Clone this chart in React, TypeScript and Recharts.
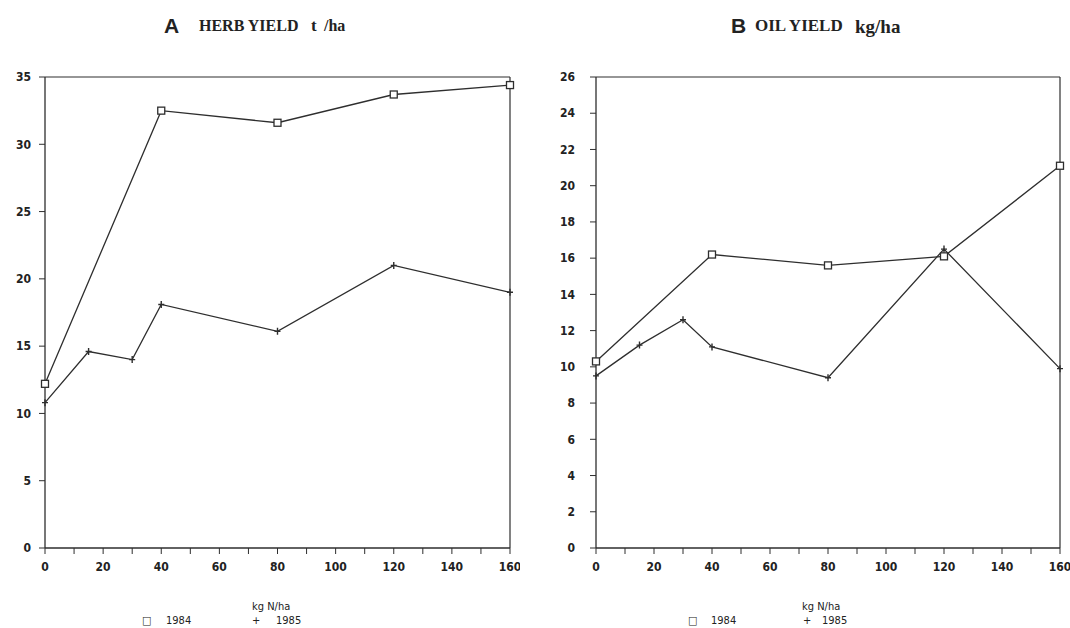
import { LineChart, Line, XAxis, YAxis, ReferenceLine } from 'recharts'

// kg N/ha application levels
const nTicks = [0, 10, 20, 30, 40, 50, 60, 70, 80, 90, 100, 110, 120, 130, 140, 150, 160]

// A: herb yield t/ha
const herbN1984 = [0, 40, 80, 120, 160]
const herb1984 = [12.2, 32.5, 31.6, 33.7, 34.4]
const herbN1985 = [0, 15, 30, 40, 80, 120, 160]
const herb1985 = [10.8, 14.6, 14.0, 18.1, 16.1, 21.0, 19.0]
const herbTicks = [0, 5, 10, 15, 20, 25, 30, 35]

// B: oil yield kg/ha
const oilN1984 = [0, 40, 80, 120, 160]
const oil1984 = [10.3, 16.2, 15.6, 16.1, 21.1]
const oilN1985 = [0, 15, 30, 40, 80, 120, 160]
const oil1985 = [9.5, 11.2, 12.6, 11.1, 9.4, 16.5, 9.9]
const oilTicks = [0, 2, 4, 6, 8, 10, 12, 14, 16, 18, 20, 22, 24, 26]

const ink = '#2e2e2e'
const font = '"DejaVu Sans Condensed", "DejaVu Sans", sans-serif'

const zip = (xs, ys) => xs.map((n, i) => ({ n, v: ys[i] }))

const SquareDot = (p) => (
    <rect key={'s' + p.index} x={p.cx - 3.5} y={p.cy - 3.5} width={7} height={7}
        fill="#fff" stroke={ink} strokeWidth={1.3} />
)
const PlusDot = (p) => (
    <path key={'p' + p.index}
        d={`M${p.cx - 3},${p.cy}H${p.cx + 3}M${p.cx},${p.cy - 3.5}V${p.cy + 3.5}`}
        stroke={ink} strokeWidth={1.4} />
)

const tick = { fill: '#222', fontSize: 12, fontFamily: font, fontWeight: 'bold' }

const Panel = ({ left, width, yAxisWidth, yTickMargin, ticks, max, a, b }) => (
    <div style={{ position: 'absolute', left, top: 0 }}>
        <LineChart width={width} height={628}
            margin={{ top: 77, right: 10, bottom: 50, left: 0 }}>
            <XAxis type="number" dataKey="n" domain={[0, 160]} ticks={nTicks}
                tickFormatter={(v) => (v % 20 === 0 ? String(v) : '')}
                allowDuplicatedCategory={false}
                height={30} tickSize={6} tickMargin={8} tick={tick}
                axisLine={{ stroke: ink, strokeWidth: 1.3 }} tickLine={{ stroke: ink }} />
            <YAxis type="number" domain={[0, max]} ticks={ticks} width={yAxisWidth}
                tickSize={6} tickMargin={yTickMargin} tick={tick}
                axisLine={{ stroke: ink, strokeWidth: 1.3 }} tickLine={{ stroke: ink }} />
            <ReferenceLine y={max} stroke={ink} strokeWidth={1.2} />
            <ReferenceLine x={160} stroke={ink} strokeWidth={1.2} />
            <Line data={b} dataKey="v" type="linear" stroke={ink} strokeWidth={1.3}
                dot={PlusDot} activeDot={false} isAnimationActive={false} />
            <Line data={a} dataKey="v" type="linear" stroke={ink} strokeWidth={1.3}
                dot={SquareDot} activeDot={false} isAnimationActive={false} />
        </LineChart>
    </div>
)

const txt = (left, top, size, children, extra = {}) => (
    <div style={{
        position: 'absolute', left, top, fontSize: size, fontFamily: font,
        color: '#222', whiteSpace: 'nowrap', lineHeight: 1, ...extra,
    }}>{children}</div>
)

const titleFont = { fontFamily: '"Liberation Serif", serif', fontWeight: 'bold' }
const bigLetter = { fontFamily: 'Arial, "Liberation Sans", sans-serif', fontWeight: 'bold' }

export default function App() {
    return (
        <div style={{ position: 'absolute', left: 0, top: 0, width: 1070, height: 628, background: '#fff' }}>
            <Panel left={0} width={520} yAxisWidth={45} yTickMargin={8} ticks={herbTicks} max={35}
                a={zip(herbN1984, herb1984)} b={zip(herbN1985, herb1985)} />
            <Panel left={540} width={530} yAxisWidth={56} yTickMargin={15} ticks={oilTicks} max={26}
                a={zip(oilN1984, oil1984)} b={zip(oilN1985, oil1985)} />

            {txt(164, 15, 21, 'A', bigLetter)}
            {txt(199, 18, 16, 'HERB YIELD', titleFont)}
            {txt(311, 17, 17, 't', titleFont)}
            {txt(324, 18, 16, '/ha', titleFont)}
            {txt(731, 15, 21, 'B', bigLetter)}
            {txt(755, 17, 17, 'OIL YIELD', titleFont)}
            {txt(855, 17, 19, 'kg/ha', titleFont)}

            {txt(252, 601, 11, 'kg N/ha')}
            {txt(142, 615, 11, '□')}
            {txt(166, 615, 11, '1984')}
            {txt(252, 615, 11, '+')}
            {txt(276, 615, 11, '1985')}

            {txt(802, 601, 11, 'kg N/ha')}
            {txt(688, 615, 11, '□')}
            {txt(711, 615, 11, '1984')}
            {txt(803, 615, 11, '+')}
            {txt(822, 615, 11, '1985')}
        </div>
    )
}
